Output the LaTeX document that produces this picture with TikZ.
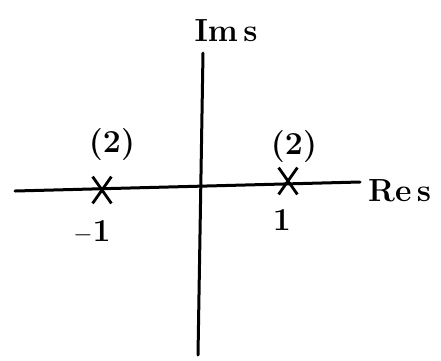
\documentclass[tikz,border=0pt]{standalone}
\usepackage{fontspec}
\usetikzlibrary{shapes.misc}
\begin{document}
\begin{tikzpicture}[x=1pt,y=-1pt,
  axis/.style={line width=3pt,line cap=round},
  pole/.style={cross out,draw,line width=2.8pt,minimum width=16pt,minimum height=24pt,inner sep=0pt},
  lbl/.style={font=\fontsize{32}{34}\selectfont\bfseries,inner sep=0pt}]
\useasboundingbox (0,0) rectangle (441,360);
\coordinate (xl) at (15,191);
\coordinate (xr) at (360,182);
\coordinate (yt) at (203,53);
\coordinate (yb) at (198,355);
\draw[axis] (xl) -- (xr);
\draw[axis] (yt) -- (yb);
\node[pole] (pm) at (102,190) {};
\node[pole] (pp) at (288,181) {};
\node[lbl] (ims) at (226,31) {Im\,s};
\node[lbl,anchor=west] (res) at (368,191) {Re\,s};
\node[lbl] (m2) at (112,145) {(2)};
\node[lbl] (p2) at (294,147) {(2)};
\node[lbl] (mone) at (92,232) {$-$1};
\node[lbl] (pone) at (282,220) {1};
\end{tikzpicture}
\end{document}
